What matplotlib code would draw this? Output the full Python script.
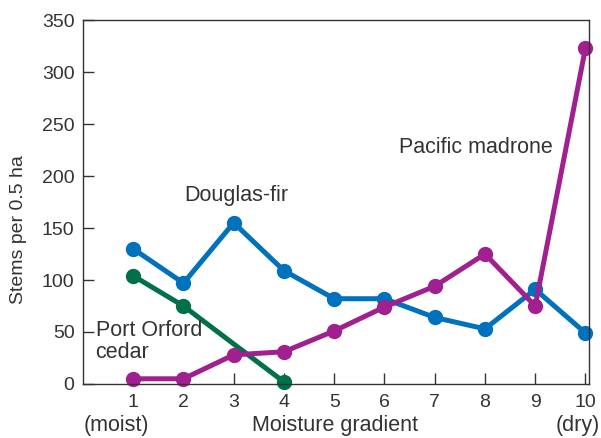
import matplotlib
matplotlib.use("Agg")
import matplotlib.pyplot as plt

plt.rcParams['font.family'] = ['Liberation Sans', 'DejaVu Sans']

x = [1, 2, 3, 4, 5, 6, 7, 8, 9, 10]
douglas_fir = [130, 97, 155, 109, 82, 82, 64, 53, 91, 49]
madrone = [5, 5, 28, 31, 51, 74, 94, 125, 75, 323]
cedar_x = [1, 2, 4]
cedar = [104, 75, 2]
yticks = [0, 50, 100, 150, 200, 250, 300, 350]

blue = '#0071BC'
purple = '#A1208F'
green = '#00704A'
tcol = '#333333'

fig = plt.figure(figsize=(6.01, 4.38), dpi=100)
ax = fig.add_axes([0.138, 0.1233, 0.842, 0.831])

kw = dict(lw=3.6, marker='o', ms=10, clip_on=False, solid_capstyle='round')
ax.plot(cedar_x, cedar, color=green, **kw)
ax.plot(x, douglas_fir, color=blue, **kw)
ax.plot(x, madrone, color=purple, **kw)

ax.set_xlim(0, 10.07)
ax.set_ylim(0, 350)
ax.set_xticks(x)
ax.set_yticks(yticks)
ax.tick_params(direction='in', length=8, width=1, colors=tcol, labelsize=14, pad=6)
ax.tick_params(axis='x', pad=7)
for s in ax.spines.values():
    s.set_color(tcol)
    s.set_linewidth(1)

ax.set_ylabel('Stems per 0.5 ha', fontsize=14, color=tcol)
ax.yaxis.set_label_coords(-0.11, 0.423)

fs = 15.5
ax.text(3.06, 181, 'Douglas-fir', ha='center', va='center', fontsize=fs, color=tcol)
ax.text(7.82, 227, 'Pacific madrone', ha='center', va='center', fontsize=fs, color=tcol)
ax.text(0.25, 41, 'Port Orford\ncedar', ha='left', va='center', fontsize=fs, color=tcol, linespacing=1.1)

fig.text(116/601, 1 - 426/438, '(moist)', ha='center', va='center', fontsize=fs, color=tcol)
fig.text(335/601, 1 - 426/438, 'Moisture gradient', ha='center', va='center', fontsize=fs, color=tcol)
fig.text(578/601, 1 - 426/438, '(dry)', ha='center', va='center', fontsize=fs, color=tcol)

fig.savefig('out.png', dpi=100)
